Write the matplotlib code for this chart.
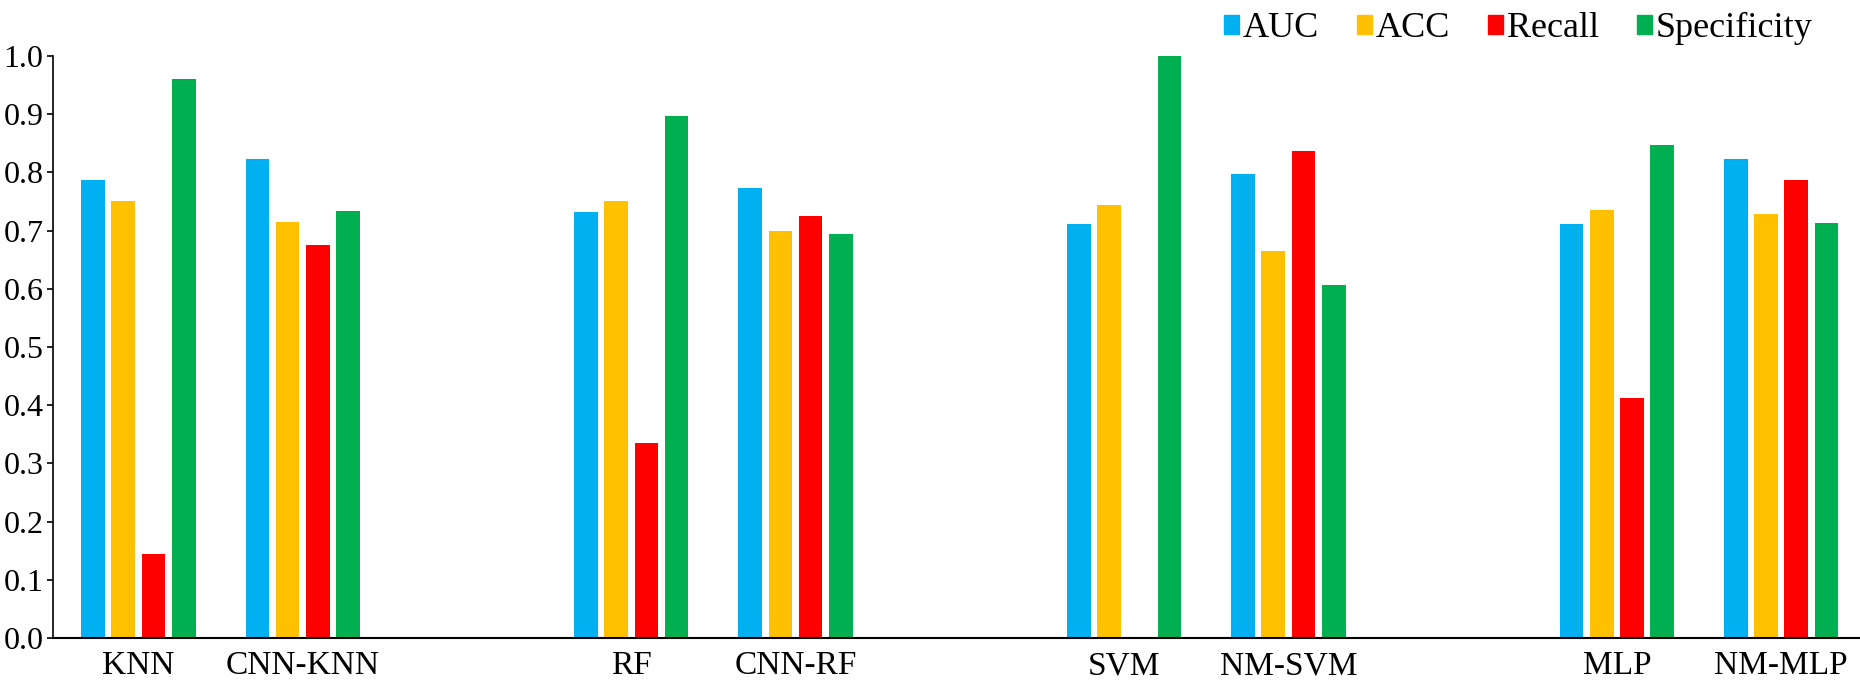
import numpy as np
import matplotlib
matplotlib.use("Agg")
import matplotlib.pyplot as plt
from matplotlib.patches import Patch

plt.rcParams["font.family"] = ["Liberation Serif", "DejaVu Serif"]

# categories (empty slots separate the model pairs)
models = ["KNN", "CNN-KNN", "", "RF", "CNN-RF", "", "SVM", "NM-SVM", "", "MLP", "NM-MLP"]
metrics = ["AUC", "ACC", "Recall", "Specificity"]
colors = ["#00B0F0", "#FFC000", "#FF0000", "#00B050"]

auc = [0.786, 0.823, np.nan, 0.731, 0.773, np.nan, 0.712, 0.797, np.nan, 0.711, 0.822]
acc = [0.750, 0.715, np.nan, 0.750, 0.700, np.nan, 0.744, 0.665, np.nan, 0.736, 0.728]
recall = [0.145, 0.675, np.nan, 0.335, 0.725, np.nan, 0.0, 0.836, np.nan, 0.413, 0.786]
specificity = [0.961, 0.733, np.nan, 0.896, 0.694, np.nan, 1.0, 0.607, np.nan, 0.847, 0.713]
series = [auc, acc, recall, specificity]

fig = plt.figure(figsize=(18.6, 6.81), dpi=100)
ax = fig.add_axes([0.0285, 0.063, 0.9715, 0.855])

x = np.arange(len(models))
width = 0.144
step = 0.184
for i, (vals, c) in enumerate(zip(series, colors)):
    ax.bar(x + (i - 1.5) * step, vals, width=width, color=c)

ax.set_xlim(-0.52, 10.48)
ax.set_ylim(0, 1.0)
ax.set_yticks(np.arange(0, 1.01, 0.1))
ax.set_yticklabels([f"{v:.1f}" for v in np.arange(0, 1.01, 0.1)])
ax.set_xticks(x)
ax.set_xticklabels(models)
ax.tick_params(axis="x", length=0, pad=9, labelsize=24)
ax.tick_params(axis="y", length=4, width=1.2, labelsize=23, pad=3)
for s in ["top", "right"]:
    ax.spines[s].set_visible(False)
ax.spines["left"].set_linewidth(1.2)
ax.spines["bottom"].set_linewidth(1.5)

handles = [Patch(color=c, label=m) for c, m in zip(colors, metrics)]
fig.legend(handles=handles, loc="upper right", bbox_to_anchor=(0.992, 1.03),
           ncol=4, frameon=False, fontsize=26, handlelength=0.42,
           handleheight=0.42, handletextpad=0.1, columnspacing=1.05)

fig.savefig("out.png", dpi=100)
